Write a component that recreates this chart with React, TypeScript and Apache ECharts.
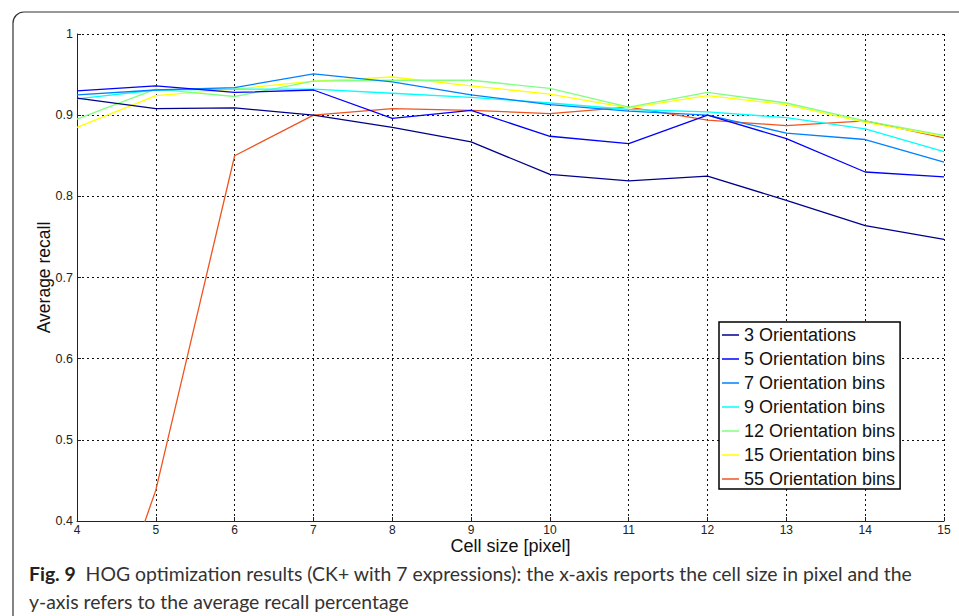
import React, { useEffect, useRef } from "react";
import * as echarts from "echarts";

const cellSizes = [4, 5, 6, 7, 8, 9, 10, 11, 12, 13, 14, 15];
const seriesNames = [
  "3 Orientations",
  "5 Orientation bins",
  "7 Orientation bins",
  "9 Orientation bins",
  "12 Orientation bins",
  "15 Orientation bins",
  "55 Orientation bins",
];
const recall3 = [0.921, 0.908, 0.909, 0.9, 0.885, 0.867, 0.827, 0.819, 0.825, 0.795, 0.764, 0.747];
const recall5 = [0.93, 0.936, 0.928, 0.931, 0.896, 0.906, 0.874, 0.865, 0.9, 0.871, 0.83, 0.824];
const recall7 = [0.925, 0.931, 0.934, 0.951, 0.941, 0.925, 0.913, 0.905, 0.9, 0.878, 0.87, 0.842];
const recall9 = [0.92, 0.931, 0.932, 0.932, 0.927, 0.922, 0.915, 0.907, 0.904, 0.897, 0.883, 0.855];
const recall12 = [0.895, 0.932, 0.923, 0.942, 0.943, 0.943, 0.933, 0.91, 0.928, 0.915, 0.893, 0.875];
const recall15 = [0.885, 0.924, 0.932, 0.942, 0.947, 0.936, 0.926, 0.909, 0.924, 0.913, 0.891, 0.874];
const recall55 = [0.16, 0.438, 0.85, 0.9, 0.908, 0.906, 0.902, 0.91, 0.894, 0.887, 0.893, 0.872];
const seriesValues = [recall3, recall5, recall7, recall9, recall12, recall15, recall55];
const seriesColors = ["#00008C", "#0000FF", "#0080FF", "#00FFFF", "#80FF80", "#FFFF00", "#EE5520"];

const yTickMin = 0.4;
const yTickMax = 1;

const captionBold = "Fig. 9";
const captionLine1 = "HOG optimization results (CK+ with 7 expressions): the x-axis reports the cell size in pixel and the";
const captionLine2 = "y-axis refers to the average recall percentage";

export default function App() {
  const ref = useRef<HTMLDivElement>(null);
  useEffect(() => {
    if (!ref.current) return;
    const chart = echarts.init(ref.current, null, { renderer: "svg" });
    const font = "Liberation Sans, Arial, Helvetica, sans-serif";
    const capFont = "Lato, Open Sans, sans-serif";
    chart.setOption({
      animation: false,
      backgroundColor: "#ffffff",
      grid: { left: 77, top: 34, width: 867, height: 487, containLabel: false },
      xAxis: {
        type: "value",
        min: 4,
        max: 15,
        interval: 1,
        name: "Cell size [pixel]",
        nameLocation: "middle",
        nameGap: 16,
        nameMoveOverlap: false,
        nameTextStyle: { fontFamily: font, fontSize: 18, color: "#111" },
        axisLine: { show: true, onZero: false, lineStyle: { color: "#222", width: 1 } },
        axisTick: { show: true, inside: true, length: 4, lineStyle: { color: "#222" } },
        axisLabel: {
          fontFamily: font,
          fontSize: 12,
          color: "#222",
          margin: 3,
          formatter: (v: number) => String(v),
        },
        splitLine: { show: true, lineStyle: { color: "#111", type: [2, 3], width: 1 } },
      },
      yAxis: {
        type: "value",
        min: yTickMin,
        max: yTickMax,
        interval: 0.1,
        name: "Average recall",
        nameLocation: "middle",
        nameGap: 24,
        nameMoveOverlap: false,
        nameTextStyle: { fontFamily: font, fontSize: 17.5, color: "#111" },
        axisLine: { show: true, onZero: false, lineStyle: { color: "#222", width: 1 } },
        axisTick: { show: true, inside: true, length: 4, lineStyle: { color: "#222" } },
        axisLabel: {
          fontFamily: font,
          fontSize: 12.5,
          color: "#222",
          margin: 4,
          formatter: (v: number) => (Math.abs(v - 1) < 1e-9 ? "1" : String(Math.round(v * 10) / 10)),
        },
        splitLine: { show: true, lineStyle: { color: "#111", type: [2, 3], width: 1 } },
      },
      legend: {
        orient: "vertical",
        left: 719,
        top: 322,
        icon: "rect",
        itemWidth: 17,
        itemHeight: 1.5,
        itemGap: 6,
        padding: [4, 5, 1, 3],
        backgroundColor: "#ffffff",
        borderColor: "#000",
        borderWidth: 1.5,
        textStyle: { fontFamily: font, fontSize: 18, color: "#111" },
        data: seriesNames,
      },
      series: seriesNames.map((name, i) => ({
        name,
        type: "line",
        symbol: "none",
        clip: true,
        lineStyle: { width: 1.3, color: seriesColors[i] },
        itemStyle: { color: seriesColors[i] },
        data: cellSizes.map((x, j) => [x, seriesValues[i][j]]),
        z: 10 - i,
      })),
      graphic: [
        {
          type: "rect",
          shape: { x: 13, y: 12, width: 1000, height: 700, r: 11 },
          style: { fill: "none", stroke: "#333", lineWidth: 1.2 },
          silent: true,
        },
        {
          type: "text",
          left: 29,
          top: 559,
          style: {
            text: "{b|" + captionBold + "}  " + captionLine1 + "\n" + captionLine2,
            fontFamily: capFont,
            fontSize: 19.4,
            lineHeight: 28,
            fill: "#333",
            rich: {
              b: { fontWeight: "bold", fontFamily: capFont, fontSize: 19.4, fill: "#222", lineHeight: 28 },
            },
          },
        },
      ],
    });
    return () => chart.dispose();
  }, []);
  return (
    <div
      ref={ref}
      style={{ position: "absolute", left: 0, top: 0, width: 959, height: 616 }}
    />
  );
}
